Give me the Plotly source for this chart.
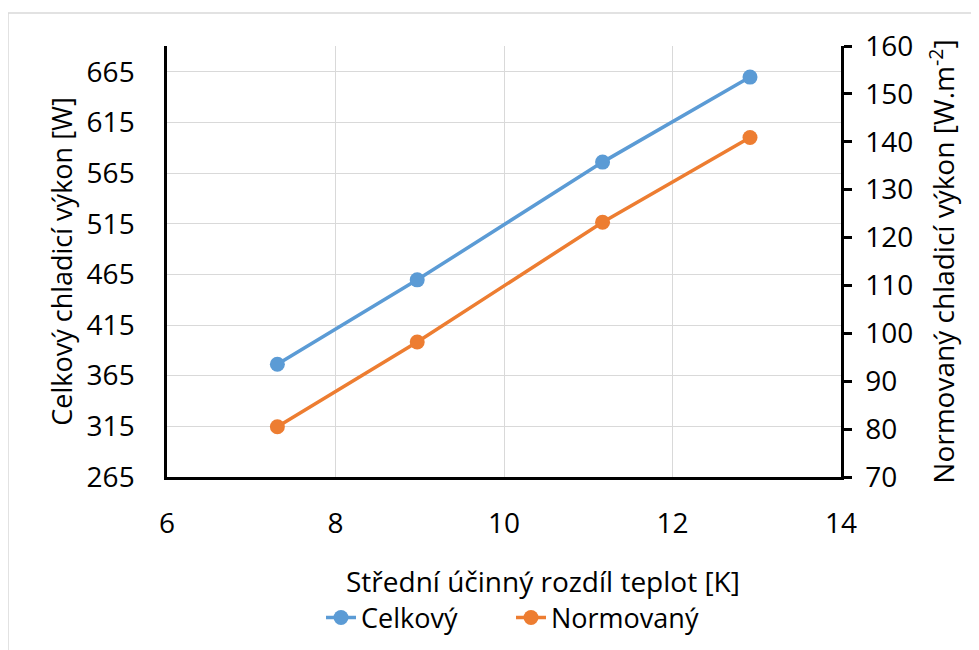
import plotly.graph_objects as go

# Data
delta_t = [7.31, 8.97, 11.17, 12.92]
celkovy = [376.3, 459.6, 575.8, 659.7]
normovany = [80.5, 98.2, 123.2, 140.9]

series_names = ["Celkový", "Normovaný"]
x_title = "Střední účinný rozdíl teplot [K]"
y_left_title = "Celkový chladicí výkon [W]"
y_right_title = "Normovaný chladicí výkon [W.m<sup>-2</sup>]"

left_ticks = [265, 315, 365, 415, 465, 515, 565, 615, 665]
right_ticks = [70, 80, 90, 100, 110, 120, 130, 140, 150, 160]
x_ticks = [6, 8, 10, 12, 14]

BLUE = "#5B9BD5"
ORANGE = "#ED7D31"
FONT = "Open Sans"

# plot area in figure pixels
L, T, W, H = 159, 38, 674, 431

fig = go.Figure()
fig.add_trace(go.Scatter(
    x=delta_t, y=celkovy, name=series_names[0], mode="lines+markers",
    line=dict(color=BLUE, width=3.5), marker=dict(color=BLUE, size=15),
    yaxis="y"))
fig.add_trace(go.Scatter(
    x=delta_t, y=normovany, name=series_names[1], mode="lines+markers",
    line=dict(color=ORANGE, width=3.5), marker=dict(color=ORANGE, size=15),
    yaxis="y2"))

fig.update_layout(
    width=979, height=650,
    margin=dict(l=L, r=979 - L - W, t=T, b=650 - T - H, autoexpand=False),
    paper_bgcolor="white", plot_bgcolor="white",
    font=dict(family=FONT, size=28, color="#000000"),
    showlegend=True,
    legend=dict(orientation="h", x=(321 - 8 - L) / W, xanchor="left",
                y=(T + H - 610) / H, yanchor="middle",
                font=dict(size=27), entrywidth=145, entrywidthmode="pixels",
                traceorder="normal", bgcolor="rgba(0,0,0,0)"),
    xaxis=dict(range=[6, 14], tickvals=x_ticks, showgrid=True, gridcolor="#D9D9D9",
               gridwidth=1.3, showline=True, linecolor="#000000", linewidth=2.5,
               ticks="", ticklabelstandoff=20, zeroline=False,
               tickfont=dict(size=28)),
    yaxis=dict(range=[265, 690.4], tickvals=left_ticks, showgrid=True, gridcolor="#D9D9D9",
               gridwidth=1.3, showline=True, linecolor="#000000", linewidth=2.5,
               ticks="", ticklabelstandoff=24, zeroline=False,
               tickfont=dict(size=28),
               title=dict(text=y_left_title, font=dict(size=27), standoff=7)),
    yaxis2=dict(range=[70, 160], tickvals=right_ticks, overlaying="y", side="right",
                showgrid=False, showline=True, linecolor="#000000", linewidth=2.5,
                ticks="outside", ticklen=8, tickwidth=2.5, tickcolor="#000000",
                ticklabelstandoff=8, zeroline=False,
                tickfont=dict(size=28),
                title=dict(text=y_right_title, font=dict(size=28), standoff=23)),
    annotations=[dict(text=x_title, xref="paper", yref="paper",
                      x=(543 - 8 - L) / W, y=(T + H - 573) / H,
                      xanchor="center", yanchor="middle", showarrow=False,
                      font=dict(size=28))],
    shapes=[dict(type="rect", xref="paper", yref="paper",
                 x0=(0 - L) / W, x1=(990 - L) / W,
                 y0=(T + H - 660) / H, y1=(T + H - 5) / H,
                 line=dict(color="#D9D9D9", width=1.5), fillcolor="rgba(0,0,0,0)",
                 layer="below")],
)

fig.write_html("out.html")
